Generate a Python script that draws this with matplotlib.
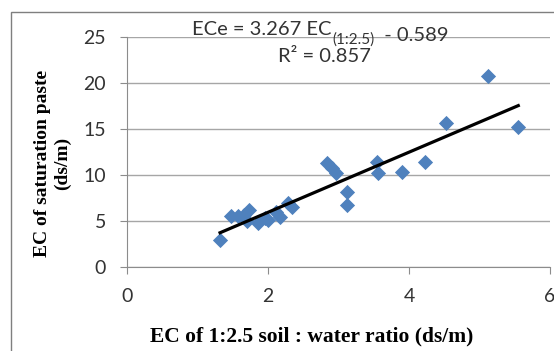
import numpy as np
import matplotlib.pyplot as plt
from matplotlib.patches import Rectangle

# EC of 1:2.5 soil:water extract vs EC of saturation paste (ds/m)
ec_1_25 = [1.32, 1.48, 1.58, 1.70, 1.73, 1.66, 1.86, 1.96, 2.00, 2.12, 2.17,
           2.29, 2.34, 2.83, 2.91, 2.97, 3.12, 3.12, 3.54, 3.56, 3.90, 4.23,
           4.53, 5.12, 5.55]
ece = [2.9, 5.5, 5.5, 5.0, 6.2, 5.6, 4.8, 5.3, 5.1, 6.0, 5.4,
       7.0, 6.5, 11.3, 10.8, 10.2, 8.2, 6.7, 11.4, 10.2, 10.3, 11.4,
       15.7, 20.8, 15.2]

slope = 3.267
intercept = -0.589
r2 = 0.857

x_ticks = [0, 2, 4, 6]
y_ticks = [0, 5, 10, 15, 20, 25]

W, H = 554, 351
fig = plt.figure(figsize=(W / 100, H / 100), dpi=100)
ax = fig.add_axes([127 / W, 1 - 267 / H, 423 / W, 230 / H])

# outer chart frame
fig.patches.append(Rectangle((11 / W, -0.1), 1.2, 1.1 - 12 / H, transform=fig.transFigure,
                             fill=False, edgecolor='#7f7f7f', linewidth=1.0))

ax.scatter(ec_1_25, ece, marker='D', s=60, color='#4f81bd', zorder=3, linewidths=0)

xs = np.array([min(ec_1_25), max(ec_1_25)])
ax.plot(xs, slope * xs + intercept, color='black', linewidth=2.3, zorder=4)

ax.set_xlim(0, 6)
ax.set_ylim(0, 25)
ax.set_xticks(x_ticks)
ax.set_yticks(y_ticks)
ax.grid(axis='y', color='#a6a6a6', linewidth=1.0)
ax.set_axisbelow(True)
for s in ['top', 'right']:
    ax.spines[s].set_visible(False)
for s in ['left', 'bottom']:
    ax.spines[s].set_color('#8c8c8c')
ax.tick_params(axis='both', colors='#8c8c8c', length=5, labelcolor='#333333',
               labelsize=14, pad=10)
for lab in ax.get_xticklabels() + ax.get_yticklabels():
    lab.set_family('Lato')

ax.set_xlabel('EC of 1:2.5 soil : water ratio (ds/m)', family='Liberation Serif',
              fontweight='bold', fontsize=15.5)
ax.xaxis.set_label_coords(0.437, -0.26)
ax.set_ylabel('EC of saturation paste\n(ds/m)', family='Liberation Serif',
              fontweight='bold', fontsize=14, linespacing=1.15)
ax.yaxis.set_label_coords(-0.133, 0.452)

# trendline equation, with a lowered subscript
eq_style = dict(fontsize=14.5, family='Lato', color='#333333')
t1 = fig.text(192 / W, 1 - 35 / H, 'ECe = 3.267 EC', ha='left', va='baseline', **eq_style)
t2 = ax.annotate('(1:2.5)', xy=(1, 0), xycoords=t1, xytext=(0.5, -4),
                 textcoords='offset points', ha='left', va='baseline',
                 fontsize=11, family='Lato', color='#333333')
ax.annotate('  - 0.589', xy=(1, 0), xycoords=t2, xytext=(0, 4),
            textcoords='offset points', ha='left', va='baseline', **eq_style)
fig.text(324 / W, 1 - 62 / H, 'R² = 0.857', ha='center', va='baseline', **eq_style)

fig.savefig('out.png', dpi=100)
